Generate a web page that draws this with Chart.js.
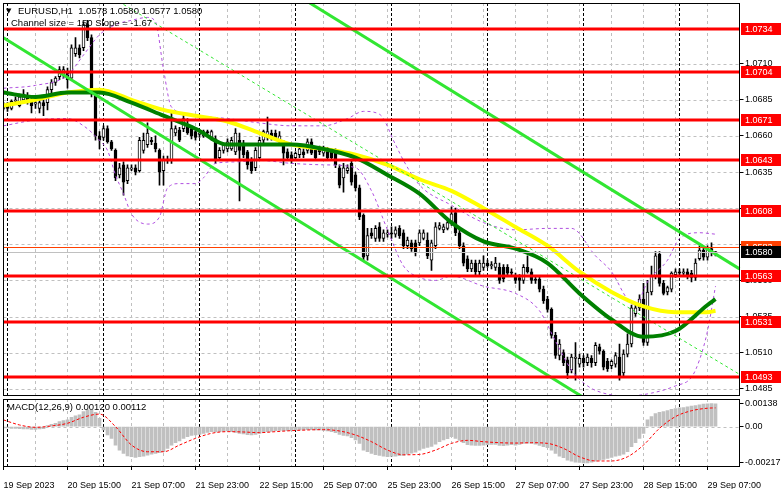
<!DOCTYPE html>
<html>
<head>
<meta charset="utf-8">
<script src="https://cdn.jsdelivr.net/npm/chart.js@4.4.0/dist/chart.umd.min.js"></script>
<style>
  body { margin: 0; background: #fff; }
  #wrap { position: relative; width: 781px; height: 489px; overflow: hidden; }
  #main { position: absolute; left: 0; top: 0; }
  #macd { position: absolute; left: 0; top: 397px; }
</style>
</head>
<body>
<div id="wrap">
  <canvas id="main" width="781" height="398" style="width:781px;height:398px"></canvas>
  <canvas id="macd" width="781" height="92" style="width:781px;height:92px"></canvas>
</div>
<script>
const tickLabels = ['19 Sep 2023', '20 Sep 15:00', '21 Sep 07:00', '21 Sep 23:00', '22 Sep 15:00', '25 Sep 07:00',
  '25 Sep 23:00', '26 Sep 15:00', '27 Sep 07:00', '27 Sep 23:00', '28 Sep 15:00', '29 Sep 07:00'];
const barsPerLabel = 16;
const daySeparators = [1, 25, 49, 73, 97, 121, 145, 169];
const slots = 185;

const opens = [
  1.0679,1.0681,1.0679,1.0684,1.0681,1.0685,1.0688,1.0685,1.0682,1.0679,
  1.0683,1.0683,1.0692,1.0697,1.0701,1.0702,1.0704,1.0700,1.0717,1.0721,
  1.0721,1.0737,1.0728,1.0689,1.0660,1.0659,1.0665,1.0656,1.0650,1.0633,
  1.0640,1.0629,1.0637,1.0638,1.0636,1.0650,1.0654,1.0657,1.0655,1.0650,
  1.0636,1.0644,1.0643,1.0662,1.0664,1.0665,1.0667,1.0665,1.0663,1.0661,
  1.0660,1.0663,1.0659,1.0658,1.0645,1.0650,1.0651,1.0651,1.0649,1.0657,
  1.0655,1.0649,1.0643,1.0638,1.0645,1.0657,1.0659,1.0662,1.0662,1.0657,
  1.0654,1.0649,1.0647,1.0645,1.0647,1.0649,1.0650,1.0656,1.0650,1.0650,
  1.0648,1.0650,1.0650,1.0650,1.0638,1.0631,1.0636,1.0641,1.0633,1.0624,
  1.0605,1.0577,1.0593,1.0589,1.0597,1.0589,1.0592,1.0593,1.0592,1.0596,
  1.0593,1.0584,1.0586,1.0586,1.0586,1.0589,1.0588,1.0574,1.0584,1.0596,
  1.0595,1.0596,1.0600,1.0607,1.0593,1.0584,1.0575,1.0568,1.0572,1.0566,
  1.0569,1.0572,1.0570,1.0569,1.0569,1.0569,1.0569,1.0566,1.0563,1.0562,
  1.0560,1.0569,1.0566,1.0561,1.0561,1.0554,1.0547,1.0540,1.0522,1.0508,
  1.0510,1.0505,1.0498,1.0506,1.0502,1.0506,1.0503,1.0506,1.0503,1.0514,
  1.0511,1.0504,1.0501,1.0502,1.0507,1.0496,1.0509,1.0516,1.0537,1.0541,
  1.0547,1.0517,1.0552,1.0563,1.0578,1.0558,1.0552,1.0554,1.0564,1.0566,
  1.0565,1.0566,1.0565,1.0562,1.0575,1.0581,1.0576,1.0582,1.0578
];
const highs = [
  1.0683,1.0683,1.0685,1.0687,1.0689,1.0692,1.0690,1.0686,1.0684,1.0686,
  1.0685,1.0694,1.0699,1.0701,1.0708,1.0708,1.0707,1.0723,1.0728,1.0723,
  1.0739,1.0740,1.0730,1.0692,1.0663,1.0667,1.0667,1.0657,1.0651,1.0641,
  1.0642,1.0640,1.0640,1.0640,1.0659,1.0662,1.0669,1.0659,1.0660,1.0651,
  1.0646,1.0646,1.0676,1.0667,1.0666,1.0674,1.0672,1.0667,1.0665,1.0663,
  1.0664,1.0664,1.0664,1.0660,1.0652,1.0655,1.0658,1.0659,1.0665,1.0662,
  1.0657,1.0650,1.0645,1.0652,1.0659,1.0664,1.0673,1.0664,1.0664,1.0663,
  1.0657,1.0651,1.0649,1.0649,1.0653,1.0651,1.0658,1.0658,1.0651,1.0653,
  1.0653,1.0652,1.0651,1.0651,1.0640,1.0641,1.0640,1.0643,1.0635,1.0626,
  1.0606,1.0596,1.0596,1.0598,1.0600,1.0595,1.0595,1.0597,1.0597,1.0598,
  1.0595,1.0590,1.0588,1.0588,1.0595,1.0595,1.0593,1.0588,1.0600,1.0600,
  1.0599,1.0602,1.0611,1.0610,1.0595,1.0586,1.0577,1.0574,1.0574,1.0574,
  1.0577,1.0574,1.0573,1.0576,1.0572,1.0571,1.0571,1.0568,1.0565,1.0564,
  1.0571,1.0577,1.0568,1.0563,1.0563,1.0556,1.0549,1.0541,1.0524,1.0519,
  1.0512,1.0507,1.0509,1.0517,1.0509,1.0508,1.0509,1.0508,1.0517,1.0516,
  1.0512,1.0506,1.0505,1.0510,1.0516,1.0512,1.0523,1.0543,1.0543,1.0550,
  1.0558,1.0560,1.0570,1.0580,1.0580,1.0560,1.0556,1.0566,1.0568,1.0568,
  1.0568,1.0568,1.0567,1.0575,1.0584,1.0583,1.0584,1.0586,1.0580
];
const lows = [
  1.0678,1.0677,1.0678,1.0682,1.0680,1.0684,1.0682,1.0676,1.0679,1.0676,
  1.0674,1.0678,1.0690,1.0695,1.0699,1.0700,1.0693,1.0699,1.0715,1.0714,
  1.0719,1.0726,1.0687,1.0657,1.0651,1.0657,1.0655,1.0650,1.0629,1.0631,
  1.0619,1.0627,1.0636,1.0633,1.0635,1.0648,1.0652,1.0654,1.0649,1.0626,
  1.0626,1.0641,1.0641,1.0660,1.0656,1.0663,1.0661,1.0658,1.0657,1.0659,
  1.0659,1.0661,1.0657,1.0641,1.0643,1.0648,1.0649,1.0650,1.0647,1.0615,
  1.0645,1.0637,1.0634,1.0636,1.0643,1.0655,1.0657,1.0657,1.0657,1.0655,
  1.0640,1.0643,1.0641,1.0643,1.0645,1.0645,1.0648,1.0647,1.0643,1.0647,
  1.0646,1.0644,1.0643,1.0638,1.0624,1.0621,1.0634,1.0626,1.0622,1.0602,
  1.0574,1.0574,1.0589,1.0587,1.0587,1.0587,1.0590,1.0589,1.0590,1.0589,
  1.0582,1.0582,1.0580,1.0577,1.0584,1.0588,1.0575,1.0567,1.0582,1.0595,
  1.0593,1.0595,1.0598,1.0591,1.0582,1.0570,1.0566,1.0566,1.0563,1.0564,
  1.0567,1.0569,1.0568,1.0567,1.0558,1.0559,1.0563,1.0563,1.0558,1.0553,
  1.0558,1.0565,1.0558,1.0558,1.0552,1.0544,1.0538,1.0520,1.0506,1.0505,
  1.0501,1.0492,1.0496,1.0491,1.0500,1.0500,1.0501,1.0500,1.0501,1.0509,
  1.0498,1.0497,1.0499,1.0500,1.0491,1.0494,1.0507,1.0514,1.0535,1.0539,
  1.0515,1.0515,1.0550,1.0561,1.0556,1.0550,1.0550,1.0552,1.0562,1.0563,
  1.0563,1.0561,1.0559,1.0560,1.0574,1.0574,1.0574,1.0577,1.0577
];
const closes = [
  1.0682,1.0679,1.0684,1.0685,1.0687,1.0689,1.0683,1.0681,1.0683,1.0683,
  1.0681,1.0692,1.0697,1.0700,1.0706,1.0706,1.0699,1.0721,1.0721,1.0716,
  1.0737,1.0728,1.0689,1.0660,1.0657,1.0665,1.0656,1.0651,1.0631,1.0638,
  1.0628,1.0638,1.0638,1.0635,1.0657,1.0657,1.0662,1.0656,1.0651,1.0635,
  1.0644,1.0643,1.0665,1.0665,1.0657,1.0672,1.0662,1.0660,1.0659,1.0662,
  1.0663,1.0662,1.0663,1.0643,1.0650,1.0654,1.0656,1.0657,1.0662,1.0650,
  1.0647,1.0640,1.0636,1.0650,1.0657,1.0663,1.0663,1.0658,1.0659,1.0660,
  1.0648,1.0645,1.0643,1.0648,1.0651,1.0647,1.0656,1.0648,1.0645,1.0649,
  1.0651,1.0645,1.0645,1.0640,1.0626,1.0638,1.0638,1.0628,1.0624,1.0604,
  1.0576,1.0591,1.0591,1.0596,1.0589,1.0593,1.0593,1.0592,1.0595,1.0591,
  1.0584,1.0588,1.0582,1.0579,1.0593,1.0593,1.0577,1.0586,1.0597,1.0598,
  1.0597,1.0600,1.0606,1.0593,1.0584,1.0572,1.0568,1.0572,1.0566,1.0572,
  1.0572,1.0570,1.0571,1.0572,1.0560,1.0561,1.0565,1.0565,1.0560,1.0560,
  1.0569,1.0566,1.0560,1.0560,1.0554,1.0546,1.0540,1.0522,1.0508,1.0516,
  1.0503,1.0496,1.0507,1.0507,1.0506,1.0503,1.0507,1.0503,1.0515,1.0511,
  1.0500,1.0499,1.0504,1.0508,1.0494,1.0509,1.0516,1.0541,1.0541,1.0547,
  1.0517,1.0552,1.0563,1.0577,1.0558,1.0551,1.0555,1.0565,1.0566,1.0565,
  1.0566,1.0563,1.0562,1.0572,1.0581,1.0576,1.0582,1.0579,1.0580
];

const maBars = [0, 8, 16, 24, 32, 40, 48, 56, 64, 72, 80, 88, 96, 104, 112, 120, 128, 136, 144, 152, 160, 168, 176, 178];
const maYellow = [1.0681, 1.0685, 1.0690, 1.0692, 1.0685, 1.0678, 1.0674, 1.0670, 1.0662, 1.0654, 1.0651, 1.0647,
  1.0640, 1.0630, 1.0622, 1.0610, 1.0597, 1.0584, 1.0566, 1.0552, 1.0542, 1.0538, 1.0538, 1.0539];
const maGreen = [1.0690, 1.0687, 1.0690, 1.0690, 1.0683, 1.0674, 1.0665, 1.0654, 1.0654, 1.0654, 1.0651, 1.0645,
  1.0633, 1.0620, 1.0600, 1.0587, 1.0582, 1.0572, 1.0551, 1.0533, 1.0521, 1.0525, 1.0543, 1.0547];

const upperBars = [0, 8, 16, 20, 24, 28, 32, 36, 38, 40, 42, 48, 56, 64, 72, 80, 86, 90, 94, 98, 100, 104, 112, 120,
  128, 136, 142, 148, 152, 156, 158, 161, 166, 169, 174, 178];
const upperBand = [1.0693, 1.0695, 1.0702, 1.0716, 1.0730, 1.0737, 1.0740, 1.0742, 1.0739, 1.0706, 1.0680, 1.0674,
  1.0672, 1.0669, 1.0667, 1.0667, 1.0672, 1.0677, 1.0675, 1.0654, 1.0643, 1.0626, 1.0612, 1.0600, 1.0595, 1.0596,
  1.0596, 1.0577, 1.0566, 1.0547, 1.0543, 1.0559, 1.0574, 1.0589, 1.0593, 1.0592];
const lowerBars = [0, 8, 16, 20, 24, 26, 28, 30, 32, 36, 39, 41, 44, 48, 50, 53, 58, 64, 72, 80, 88, 92, 96, 100,
  104, 108, 112, 120, 128, 134, 138, 142, 146, 150, 156, 162, 168, 172, 174, 176, 178];
const lowerBand = [1.0667, 1.0671, 1.0672, 1.0667, 1.0657, 1.0650, 1.0633, 1.0620, 1.0606, 1.0599, 1.0604, 1.0624,
  1.0627, 1.0627, 1.0631, 1.0641, 1.0642, 1.0643, 1.0641, 1.0640, 1.0638, 1.0622, 1.0595, 1.0570, 1.0562, 1.0560,
  1.0563, 1.0556, 1.0551, 1.0539, 1.0518, 1.0498, 1.0487, 1.0482, 1.0480, 1.0482, 1.0487, 1.0493, 1.0505, 1.0525, 1.0556];

const channelUpperBars = [76, 184];
const channelUpper = [1.0753, 1.0568];
const channelMidBars = [30, 184];
const channelMid = [1.0751, 1.0495];
const channelLowerBars = [0, 184];
const channelLower = [1.0728, 1.0412];

const levels = [1.0734, 1.0704, 1.0671, 1.0643, 1.0608, 1.0563, 1.0531, 1.0493];
const priceTicks = [1.0485, 1.0510, 1.0535, 1.0560, 1.0585, 1.0610, 1.0635, 1.0660, 1.0685, 1.0710];
const askPrice = 1.0583;
const bidPrice = 1.0580;

const macdHist = [
  -0.00008,-0.00008,-0.00010,-0.00010,-0.00012,-0.00014,-0.00014,-0.00016,-0.00016,-0.00014,
  -0.00012,0.00006,0.00014,0.00020,0.00030,0.00036,0.00040,0.00056,0.00064,0.00070,
  0.00090,0.00100,0.00098,0.00086,0.00050,-0.00020,-0.00050,-0.00070,-0.00110,-0.00140,
  -0.00160,-0.00175,-0.00180,-0.00184,-0.00180,-0.00176,-0.00170,-0.00164,-0.00160,-0.00156,
  -0.00150,-0.00130,-0.00110,-0.00095,-0.00085,-0.00070,-0.00060,-0.00052,-0.00050,-0.00046,
  -0.00040,-0.00034,-0.00030,-0.00032,-0.00030,-0.00028,-0.00026,-0.00030,-0.00034,-0.00040,
  -0.00044,-0.00048,-0.00050,-0.00046,-0.00040,-0.00034,-0.00030,-0.00028,-0.00024,-0.00022,
  -0.00024,-0.00024,-0.00022,-0.00020,-0.00020,-0.00020,-0.00018,-0.00018,-0.00020,-0.00020,
  -0.00022,-0.00026,-0.00030,-0.00036,-0.00046,-0.00052,-0.00056,-0.00066,-0.00080,-0.00100,
  -0.00140,-0.00150,-0.00160,-0.00168,-0.00172,-0.00176,-0.00180,-0.00178,-0.00176,-0.00174,
  -0.00172,-0.00164,-0.00158,-0.00152,-0.00140,-0.00130,-0.00124,-0.00118,-0.00104,-0.00090,
  -0.00080,-0.00072,-0.00060,-0.00070,-0.00082,-0.00096,-0.00108,-0.00110,-0.00112,-0.00112,
  -0.00110,-0.00108,-0.00106,-0.00106,-0.00112,-0.00114,-0.00110,-0.00108,-0.00110,-0.00106,
  -0.00100,-0.00098,-0.00100,-0.00104,-0.00112,-0.00120,-0.00126,-0.00140,-0.00160,-0.00176,
  -0.00186,-0.00200,-0.00206,-0.00212,-0.00214,-0.00217,-0.00216,-0.00212,-0.00206,-0.00200,
  -0.00196,-0.00190,-0.00184,-0.00176,-0.00172,-0.00164,-0.00150,-0.00120,-0.00096,-0.00070,
  -0.00040,0.00040,0.00060,0.00078,0.00086,0.00090,0.00096,0.00104,0.00108,0.00112,
  0.00114,0.00118,0.00122,0.00126,0.00130,0.00134,0.00136,0.00138,0.00136
];
const signalBars = [0, 4, 8, 12, 16, 20, 24, 28, 32, 36, 40, 44, 48, 52, 56, 60, 64, 68, 72, 76, 80, 84, 88, 92,
  96, 100, 104, 108, 112, 116, 120, 124, 128, 132, 136, 140, 144, 148, 152, 156, 160, 164, 168, 172, 176, 178];
const macdSignal = [0.00040, 0.00010, -0.00004, 0.00004, 0.00020, 0.00056, 0.00075, 0.00000, -0.00110, -0.00150,
  -0.00150, -0.00110, -0.00070, -0.00040, -0.00030, -0.00032, -0.00036, -0.00030, -0.00024, -0.00020, -0.00018,
  -0.00026, -0.00050, -0.00090, -0.00140, -0.00168, -0.00166, -0.00140, -0.00100, -0.00082, -0.00090, -0.00096,
  -0.00098, -0.00096, -0.00100, -0.00130, -0.00180, -0.00205, -0.00205, -0.00180, -0.00110, -0.00010, 0.00060,
  0.00095, 0.00110, 0.00112];
const macdTicks = [-0.00217, 0, 0.00138];

const font = `9px "Liberation Sans", Arial, sans-serif`;
Chart.defaults.font.family = `"Liberation Sans", Arial, sans-serif`;
Chart.defaults.font.size = 9;
Chart.defaults.color = `#000`;

let slotIndex = Array.from({length: slots}, (_, i) => i);

function sparse(bars, values) {
    let out = slotIndex.map(() => null);
    bars.forEach((b, k) => { out[b] = values[k]; });
    return out;
}

function vline(ctx, x, top, bottom) {
    ctx.beginPath();
    ctx.moveTo(x, top);
    ctx.lineTo(x, bottom);
    ctx.stroke();
}

function hline(ctx, y, left, right) {
    ctx.beginPath();
    ctx.moveTo(left, y);
    ctx.lineTo(right, y);
    ctx.stroke();
}

function drawGrid(chart, hValues) {
    let {ctx, chartArea: a, scales: {x, y}} = chart;
    ctx.save();
    ctx.beginPath();
    ctx.rect(a.left, a.top, a.width, a.height);
    ctx.clip();
    ctx.lineWidth = 1;
    ctx.strokeStyle = `#c0c0c0`;
    ctx.setLineDash([3, 3]);
    for (let i = 8; i < slots; i += 8) vline(ctx, x.getPixelForValue(i), a.top, a.bottom);
    hValues.forEach(v => hline(ctx, Math.round(y.getPixelForValue(v)) + 0.5, a.left, a.right));
    ctx.strokeStyle = `#000`;
    ctx.setLineDash([3, 2]);
    daySeparators.forEach(i => vline(ctx, x.getPixelForValue(i), a.top, a.bottom));
    ctx.restore();
}

function drawFrame(chart) {
    let {ctx, chartArea: a} = chart;
    ctx.save();
    ctx.strokeStyle = `#000`;
    ctx.lineWidth = 1;
    let top = Math.round(a.top) + 0.5;
    let bottom = Math.round(a.bottom) - 0.5;
    ctx.strokeRect(a.left, top, a.right - a.left, bottom - top);
    ctx.restore();
}

function priceBox(ctx, text, y, bg) {
    ctx.fillStyle = bg;
    ctx.fillRect(741, Math.round(y) - 6, 40, 12);
    ctx.fillStyle = `#fff`;
    ctx.font = font;
    ctx.textBaseline = `middle`;
    ctx.textAlign = `left`;
    ctx.fillText(text, 745, Math.round(y) + 0.5);
}

const mainDecor = {
    id: 'mainDecor',
    beforeDatasetsDraw(chart) {
        drawGrid(chart, priceTicks);
    },
    afterDatasetsDraw(chart) {
        let {ctx, chartArea: a, scales: {y}} = chart;
        ctx.save();
        ctx.beginPath();
        ctx.rect(a.left, a.top, a.width, a.height);
        ctx.clip();
        ctx.lineWidth = 1;
        ctx.strokeStyle = `#c0c0c0`;
        hline(ctx, Math.round(y.getPixelForValue(bidPrice)) + 0.5, a.left, a.right);
        ctx.strokeStyle = `#ff4000`;
        hline(ctx, Math.round(y.getPixelForValue(askPrice)) + 0.5, a.left, a.right);
        ctx.lineWidth = 3;
        ctx.strokeStyle = `#ff0000`;
        levels.forEach(v => hline(ctx, Math.round(y.getPixelForValue(v)), a.left, a.right));
        ctx.restore();
        drawFrame(chart);
    },
    afterDraw(chart) {
        let {ctx, scales: {y}} = chart;
        ctx.save();
        levels.forEach(v => priceBox(ctx, v.toFixed(4), y.getPixelForValue(v), `#ff0000`));
        priceBox(ctx, askPrice.toFixed(4), y.getPixelForValue(askPrice), `#ff4000`);
        priceBox(ctx, bidPrice.toFixed(4), y.getPixelForValue(bidPrice), `#000`);
        ctx.fillStyle = `#000`;
        ctx.textBaseline = `middle`;
        ctx.textAlign = `left`;
        ctx.font = `7px "DejaVu Sans", sans-serif`;
        ctx.fillText('▼', 6, 11);
        ctx.font = `9.5px "Liberation Sans", Arial, sans-serif`;
        ctx.fillText('EURUSD,H1  1.0578 1.0580 1.0577 1.0580', 18, 11);
        ctx.fillText('Channel size = 150 Slope = -1.67', 11, 23);
        ctx.restore();
    }
};

const macdDecor = {
    id: 'macdDecor',
    beforeDatasetsDraw(chart) {
        drawGrid(chart, [0]);
    },
    afterDatasetsDraw(chart) {
        drawFrame(chart);
    },
    afterDraw(chart) {
        let {ctx, chartArea: a, scales: {x}} = chart;
        ctx.save();
        ctx.strokeStyle = `#000`;
        ctx.lineWidth = 1;
        for (let i = 0; i < slots; i += barsPerLabel) vline(ctx, x.getPixelForValue(i), a.bottom, a.bottom + 3);
        ctx.fillStyle = `#000`;
        ctx.font = `9.5px "Liberation Sans", Arial, sans-serif`;
        ctx.textBaseline = `middle`;
        ctx.textAlign = `left`;
        ctx.fillText('MACD(12,26,9) 0.00120 0.00112', 7, 10);
        ctx.restore();
    }
};

let rightAxis = (min, max, ticks, fmt) => ({
    position: 'right',
    min: min,
    max: max,
    afterFit: s => { s.width = 41.5; s.paddingTop = 0; s.paddingBottom = 0; },
    afterBuildTicks: s => { s.ticks = ticks.map(v => ({value: v})); },
    ticks: {padding: 1.5, color: `#000`, callback: fmt},
    grid: {drawOnChartArea: false, tickLength: 4, color: `#000`},
    border: {display: false}
});

new Chart(document.getElementById('main'), {
    type: 'bar',
    data: {
        labels: slotIndex,
        datasets: [
            {
                type: 'bar', label: 'body',
                data: opens.map((o, i) => [o, closes[i]]),
                backgroundColor: opens.map((o, i) => closes[i] >= o ? `#ffffff` : `#000000`),
                borderColor: `#000`, borderWidth: 1, borderSkipped: false,
                barThickness: 3, grouped: false, order: 6
            },
            {
                type: 'bar', label: 'wick',
                data: lows.map((l, i) => [l, highs[i]]),
                backgroundColor: `#000`, barThickness: 1, grouped: false, order: 7
            },
            {
                type: 'line', label: 'upper band', data: sparse(upperBars, upperBand),
                borderColor: `#b050e0`, borderWidth: 1, borderDash: [3, 3], pointRadius: 0,
                spanGaps: true, cubicInterpolationMode: 'monotone', order: 5
            },
            {
                type: 'line', label: 'lower band', data: sparse(lowerBars, lowerBand),
                borderColor: `#b050e0`, borderWidth: 1, borderDash: [3, 3], pointRadius: 0,
                spanGaps: true, cubicInterpolationMode: 'monotone', order: 5
            },
            {
                type: 'line', label: 'MA slow', data: sparse(maBars, maYellow),
                borderColor: `#ffff00`, borderWidth: 4, pointRadius: 0,
                spanGaps: true, cubicInterpolationMode: 'monotone', order: 4
            },
            {
                type: 'line', label: 'MA fast', data: sparse(maBars, maGreen),
                borderColor: `#008000`, borderWidth: 4, pointRadius: 0,
                spanGaps: true, cubicInterpolationMode: 'monotone', order: 3
            },
            {
                type: 'line', label: 'channel mid', data: sparse(channelMidBars, channelMid),
                borderColor: `#32e632`, borderWidth: 1, borderDash: [3, 3], pointRadius: 0,
                spanGaps: true, order: 2
            },
            {
                type: 'line', label: 'channel upper', data: sparse(channelUpperBars, channelUpper),
                borderColor: `#32e632`, borderWidth: 3, pointRadius: 0, spanGaps: true, order: 1
            },
            {
                type: 'line', label: 'channel lower', data: sparse(channelLowerBars, channelLower),
                borderColor: `#32e632`, borderWidth: 3, pointRadius: 0, spanGaps: true, order: 1
            }
        ]
    },
    options: {
        responsive: false,
        animation: false,
        layout: {padding: {left: 3.5, top: 3, right: 0, bottom: 2}},
        plugins: {legend: {display: false}, tooltip: {enabled: false}},
        scales: {
            x: {type: 'category', display: false, offset: false},
            y: rightAxis(1.0480, 1.0752, priceTicks, v => v.toFixed(4))
        }
    },
    plugins: [mainDecor]
});

new Chart(document.getElementById('macd'), {
    type: 'bar',
    data: {
        labels: slotIndex,
        datasets: [
            {
                type: 'bar', label: 'MACD', data: macdHist,
                backgroundColor: `#c0c0c0`, barThickness: 3, grouped: false, order: 2
            },
            {
                type: 'line', label: 'Signal', data: sparse(signalBars, macdSignal),
                borderColor: `#ff0000`, borderWidth: 1, borderDash: [3, 2], pointRadius: 0,
                spanGaps: true, cubicInterpolationMode: 'monotone', order: 1
            }
        ]
    },
    options: {
        responsive: false,
        animation: false,
        layout: {padding: {left: 3.5, top: 2, right: 0, bottom: 0}},
        plugins: {legend: {display: false}, tooltip: {enabled: false}},
        scales: {
            x: {
                type: 'category', offset: false,
                afterFit: s => { s.height = 22; s.paddingLeft = 0; s.paddingRight = 0; },
                grid: {display: false},
                border: {display: false},
                ticks: {
                    autoSkip: false, maxRotation: 0, minRotation: 0, align: 'start', padding: 5, color: `#000`,
                    callback: (v, i) => i % barsPerLabel === 0 ? (tickLabels[i / barsPerLabel] || '') : ''
                }
            },
            y: rightAxis(-0.00241, 0.00165, macdTicks, v => v === 0 ? '0.00' : v.toFixed(5))
        }
    },
    plugins: [macdDecor]
});
</script>
</body>
</html>
